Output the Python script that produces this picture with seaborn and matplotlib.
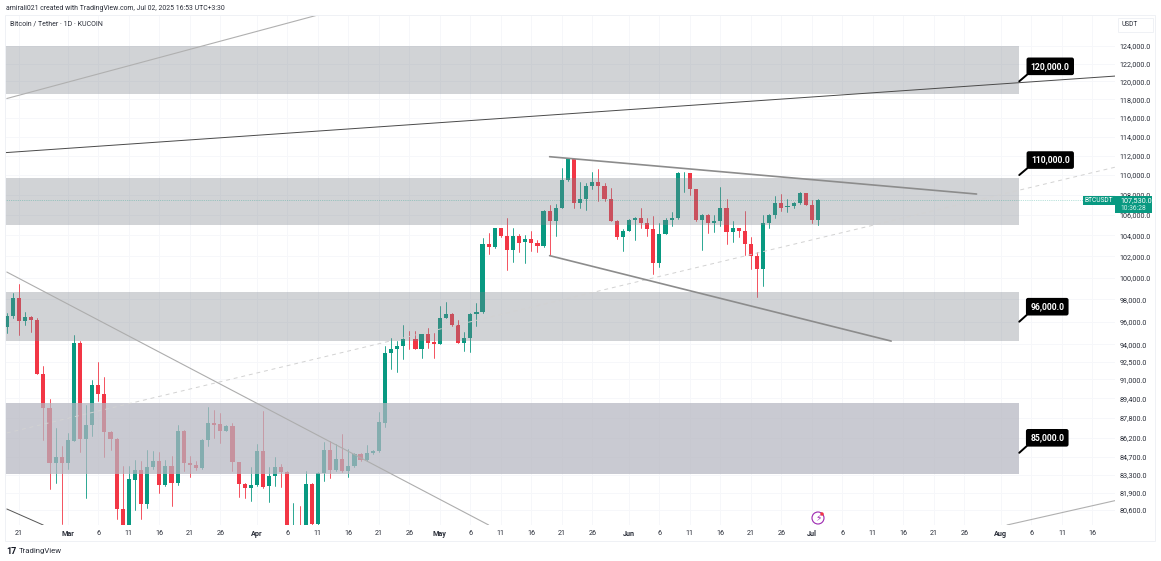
import pandas as pd
import seaborn as sns
import matplotlib.pyplot as plt
from matplotlib.patches import Ellipse, Rectangle

# Daily BTC/USDT candles, Feb 19 - Jul 2 2025
opens = [
    95500, 96540, 98180, 96060, 96450, 96160, 91440, 88570, 84170, 84690,  # Feb
    84220, 85900, 94110, 86130, 87200, 90510, 89790, 86660, 86130, 80660,
    78600, 82870, 83620, 81080, 83900, 84320, 82520, 84000, 82620, 86740,
    84170, 84040, 83780, 85980, 87390, 87300, 86760, 87110, 84250, 82540, 82280,  # Mar
    82500, 85110, 82400, 83170, 83850, 83460, 78300, 79200, 76300, 82540,
    79600, 83400, 85210, 83650, 84530, 83570, 83970, 84930, 84450, 85000,
    85120, 87420, 93290, 93570, 93850, 94500, 94460, 93640, 94880, 94200,  # Apr
    94030, 96360, 96700, 95700, 94160, 94590, 96700, 96840, 103140, 102850,
    104710, 103970, 102590, 103940, 103350, 103650, 103320, 102950, 106350, 105430,
    106680, 109460, 111600, 107140, 107590, 108910, 109300, 108860, 107590, 105430, 103830,  # May
    104440, 105500, 105750, 105230, 104580, 101400, 104130, 105500, 105660, 110170,
    110200, 108550, 105520, 106000, 105230, 105450, 106680, 104370, 104710, 104450,
    103140, 102010, 100850, 105170, 105970, 107150, 106800, 106930, 107150, 108170,  # Jun
    107000, 105520,  # Jul
]
closes = [
    96540, 98180, 96060, 96450, 96160, 91440, 88570, 84170, 84690, 84220,
    86050, 94110, 86130, 87250, 90510, 89790, 86660, 86130, 80660, 78600,
    82930, 83620, 81030, 83900, 84320, 82520, 84000, 82620, 86740, 84170,
    84040, 83780, 86040, 87390, 87250, 86760, 87110, 84250, 82540, 82280, 82500,
    85110, 82330, 83170, 83850, 83460, 78300, 79200, 76300, 82540, 79600,
    83400, 85210, 83650, 84530, 83570, 83970, 84930, 84450, 85000, 85120,
    87450, 93290, 93570, 93850, 94460, 94440, 93640, 94880, 94160, 94030,
    96360, 96700, 95700, 94160, 94590, 96700, 96840, 103140, 102850, 104710,
    103970, 102590, 103940, 103320, 103650, 103320, 102950, 106350, 105430, 106680,
    109460, 111600, 107140, 107590, 108910, 109300, 108860, 107590, 105430, 103830, 104440,
    105550, 105750, 105230, 104580, 101400, 104130, 105500, 105660, 110170, 110200,
    108550, 105520, 106000, 105230, 105450, 106680, 104370, 104710, 104450, 103140,
    102010, 100850, 105170, 105970, 107150, 106650, 106930, 107150, 108170, 107000,
    105520, 107530,
]
highs = [
    96750, 98610, 99380, 96900, 96500, 96300, 92100, 89350, 86990, 85530,
    86580, 94780, 94280, 88880, 90960, 92460, 91160, 86750, 86200, 83960,
    83960, 84470, 84340, 85260, 85130, 85080, 84470, 84740, 87250, 86820,
    84740, 84340, 86100, 88700, 88460, 88190, 87260, 87400, 84310, 82680, 83850,
    85660, 88350, 83850, 84660, 84150, 83560, 81160, 80900, 83560, 82680,
    83500, 85850, 85930, 85660, 86480, 85310, 85000, 85000, 85630, 85200,
    88250, 93840, 94560, 94290, 95690, 95160, 95160, 94900, 95400, 95020,
    97410, 97760, 96760, 96160, 95130, 96760, 97650, 103740, 104200, 104770,
    104770, 105700, 104770, 104190, 104070, 104420, 103550, 106480, 107030, 107060,
    110680, 111700, 111650, 109330, 109200, 110330, 110620, 109170, 108650, 105550, 104650,
    105600, 105810, 106680, 105750, 105880, 105170, 105750, 106290, 110330, 110330,
    110250, 108600, 106050, 106090, 106000, 108820, 107590, 105430, 104770, 106400,
    103830, 102430, 106000, 106090, 107860, 108100, 107600, 107310, 108290, 108200,
    107450, 107590,
]
lows = [
    94970, 96300, 94830, 95700, 95100, 91440, 86040, 82170, 82680, 79550,
    83750, 85900, 85030, 81490, 86370, 89150, 84660, 85260, 79920, 76600,
    76600, 80620, 79970, 80780, 83700, 81920, 82450, 80930, 82500, 83570,
    83130, 83650, 83700, 85530, 86190, 85800, 86700, 83570, 81580, 81500, 81250,
    82450, 82280, 81210, 82420, 82350, 77200, 74500, 76000, 74600, 78300,
    78900, 82840, 83020, 83580, 83500, 83150, 83900, 84350, 84350, 84900,
    85100, 87040, 91840, 91650, 92760, 93640, 93600, 92790, 93700, 92860,
    94000, 96300, 95650, 94100, 93440, 93330, 95660, 96800, 102200, 102760,
    103880, 100700, 101470, 102430, 101350, 102550, 102450, 102900, 102100, 103970,
    106650, 109400, 106650, 106650, 106480, 108550, 107430, 107430, 105400, 103700, 102550,
    104400, 103610, 104770, 103970, 100340, 100960, 104100, 104920, 105600, 108300,
    108000, 105450, 102590, 104200, 104360, 104920, 103210, 103380, 103830, 102100,
    100810, 98190, 99210, 104770, 105750, 106390, 106260, 106680, 107100, 106960,
    105170, 105000,
]

# Shaded supply / demand zones
zone_lows = [118600, 105020, 94310, 83340]
zone_highs = [124000, 109700, 98640, 89040]
zone_colors = ['#7d828c', '#7d828c', '#7d828c', '#b5b6c1']
zone_alphas = [0.35, 0.35, 0.35, 0.72]
zone_end = '2025-08-04'

# Trend lines: start date, start price, end date, end price, colour, width, style
trend_lines = [
    ('2025-02-19', 118100, '2025-04-11', 127620, '#b0b0b0', 0.8, '-'),
    ('2025-02-18', 112280, '2025-08-20', 120600, '#4a4a4a', 0.7, '-'),
    ('2025-02-19', 86580, '2025-08-20', 110850, '#d2d2d2', 0.7, (0, (4, 4))),
    ('2025-02-19', 100530, '2025-05-09', 79490, '#adadad', 0.8, '-'),
    ('2025-02-19', 80680, '2025-02-25', 79480, '#555555', 0.7, '-'),
    ('2025-08-02', 79490, '2025-08-20', 81340, '#b0b0b0', 0.8, '-'),
    ('2025-05-19', 111890, '2025-07-28', 108080, '#8c8c8c', 1.2, '-'),
    ('2025-05-19', 102070, '2025-07-14', 94290, '#8c8c8c', 1.2, '-'),
]

callout_prices = [120000, 110000, 96000, 85000]

price_ticks = [124000, 122000, 120000, 118000, 116000, 114000, 112000, 110000, 108000,
               106000, 104000, 102000, 100000, 98000, 96000, 94000, 92500, 91000, 89400,
               87800, 86200, 84700, 83300, 81900, 80600]
time_ticks = ['2025-02-21', '2025-03-01', '2025-03-06', '2025-03-11', '2025-03-16',
              '2025-03-21', '2025-03-26', '2025-04-01', '2025-04-06', '2025-04-11',
              '2025-04-16', '2025-04-21', '2025-04-26', '2025-05-01', '2025-05-06',
              '2025-05-11', '2025-05-16', '2025-05-21', '2025-05-26', '2025-06-01',
              '2025-06-06', '2025-06-11', '2025-06-16', '2025-06-21', '2025-06-26',
              '2025-07-01', '2025-07-06', '2025-07-11', '2025-07-16', '2025-07-21',
              '2025-07-26', '2025-08-01', '2025-08-06', '2025-08-11', '2025-08-16']
time_labels = ['21', 'Mar', '6', '11', '16', '21', '26', 'Apr', '6', '11', '16', '21', '26',
               'May', '6', '11', '16', '21', '26', 'Jun', '6', '11', '16', '21', '26',
               'Jul', '6', '11', '16', '21', '26', 'Aug', '6', '11', '16']

GREEN = '#089981'
RED = '#f23645'
W, H = 1161, 561

sns.set_theme(style='white')
plt.rcParams['font.family'] = ['Roboto', 'DejaVu Sans']

df = pd.DataFrame({'date': pd.date_range('2025-02-19', periods=len(opens)),
                   'open': opens, 'high': highs, 'low': lows, 'close': closes})
df['up'] = df['close'] >= df['open']
df['body_low'] = df[['open', 'close']].min(axis=1)
df['body_size'] = (df['close'] - df['open']).abs()

fig = plt.figure(figsize=(W / 100, H / 100), dpi=100, facecolor='white')
ax = fig.add_axes([5 / W, 1 - 525 / H, 1110 / W, 510 / H])
ax.set_yscale('log')

# Wicks, one short line per day
wicks = df.melt(id_vars=['date', 'up'], value_vars=['low', 'high'], value_name='price')
sns.lineplot(data=wicks, x='date', y='price', hue='up', units='date', estimator=None,
             palette={True: GREEN, False: RED}, linewidth=0.6, legend=False, ax=ax, zorder=2)

# Bodies
ax.bar(df['date'], df['body_size'], bottom=df['body_low'], width=0.68, linewidth=0,
       color=[GREEN if u else RED for u in df['up']], zorder=2)

x_start = pd.Timestamp('2025-02-21') - pd.Timedelta(days=2.3)
x_stop = pd.Timestamp('2025-02-21') + pd.Timedelta(days=179.7)

# Zones sit on top of the candles
for low, high, color, alpha in zip(zone_lows, zone_highs, zone_colors, zone_alphas):
    ax.fill_between([x_start, pd.Timestamp(zone_end)], low, high, color=color, alpha=alpha,
                    linewidth=0, zorder=3)

for d0, p0, d1, p1, color, width, style in trend_lines:
    sns.lineplot(x=pd.to_datetime([d0, d1]), y=[p0, p1], color=color, linewidth=width,
                 linestyle=style, ax=ax, zorder=4)

ax.axhline(closes[-1], color=GREEN, linestyle=':', linewidth=0.5, alpha=0.55, zorder=4)

ax.set_xlim(x_start, x_stop)
ax.set_ylim(79490, 127620)
ax.set_xlabel('')
ax.set_ylabel('')
ax.minorticks_off()

ax.yaxis.tick_right()
ax.set_yticks(price_ticks)
ax.set_yticklabels([f'{p:,.1f}' for p in price_ticks])
ax.set_xticks(pd.to_datetime(time_ticks))
ax.set_xticklabels(time_labels)
ax.tick_params(axis='both', length=0, labelsize=5.2, labelcolor='#2a2e39', pad=3.5)
for label in ax.get_xticklabels():
    if not label.get_text().isdigit():
        label.set_fontweight('bold')

ax.grid(True, color='#f6f7fa', linewidth=0.7, zorder=0)
ax.set_axisbelow(True)
for spine in ax.spines.values():
    spine.set_visible(False)

# Black price callouts on the right edge of the zones
for price in callout_prices:
    dx = 31 if price > 100000 else 28
    ax.annotate(f'{price:,.1f}', xy=(pd.Timestamp(zone_end), price), xytext=(dx, 15),
                textcoords='offset pixels', ha='center', va='center', color='white',
                fontsize=6.2, fontweight='bold', zorder=6,
                bbox=dict(boxstyle='round,pad=0.5,rounding_size=0.25', fc='black', ec='black', lw=0),
                arrowprops=dict(arrowstyle='-', color='black', lw=1.4, shrinkA=0, shrinkB=0,
                                relpos=(0.02, 0.0)))

# Chart frame and header
fig.add_artist(Rectangle((5 / W, 1 - 541 / H), 1150 / W, 526 / H, transform=fig.transFigure,
                         fill=False, ec='#eff1f5', lw=0.7))
fig.add_artist(Rectangle((1118 / W, 1 - 32 / H), 35 / W, 14 / H, transform=fig.transFigure,
                         fill=False, ec='#eff1f5', lw=0.7))
fig.text(1122 / W, 1 - 25 / H, 'USDT', fontsize=4.8, color='#2a2e39', va='center')
fig.text(6 / W, 1 - 8 / H, 'amirali021 created with TradingView.com, Jul 02, 2025 16:53 UTC+3:30',
         fontsize=4.95, color='#2a2e39', va='center')
fig.text(10 / W, 1 - 23.5 / H, 'Bitcoin / Tether · 1D · KUCOIN', fontsize=5, color='#2a2e39',
         va='center')

# Last price tags over the price axis
fig.add_artist(Rectangle((1083 / W, 1 - 205 / H), 32 / W, 9 / H, transform=fig.transFigure,
                         fc=GREEN, ec='none'))
fig.add_artist(Rectangle((1115 / W, 1 - 213 / H), 37 / W, 17 / H, transform=fig.transFigure,
                         fc=GREEN, ec='none'))
fig.text(1099 / W, 1 - 200.5 / H, 'BTCUSDT', fontsize=4.8, color='white', ha='center', va='center')
fig.text(1120 / W, 1 - 200.5 / H, f'{closes[-1]:,.1f}', fontsize=5.2, color='white', va='center')
fig.text(1120 / W, 1 - 208.5 / H, '10:36:28', fontsize=4.8, color='#d5f0ea', va='center')

# Lightning marker with its red dot, and footer logo
fig.add_artist(Ellipse((818 / W, 1 - 518 / H), 12 / W, 12 / H, transform=fig.transFigure,
                       fc='white', ec='#9c27b0', lw=0.8))
fig.text(818 / W, 1 - 518 / H, '\u26a1', fontsize=6.5, color='#9c27b0', ha='center', va='center',
         family='DejaVu Sans')
fig.add_artist(Ellipse((822 / W, 1 - 514 / H), 3.5 / W, 3.5 / H, transform=fig.transFigure,
                       fc=RED, ec='none'))
fig.text(6 / W, 1 - 551 / H, '17', fontsize=6.5, fontweight='bold', color='#131722', va='center')
fig.text(19 / W, 1 - 551 / H, 'TradingView', fontsize=5.6, color='#2a2e39', va='center')

fig.savefig('out.png', dpi=100, facecolor='white')
